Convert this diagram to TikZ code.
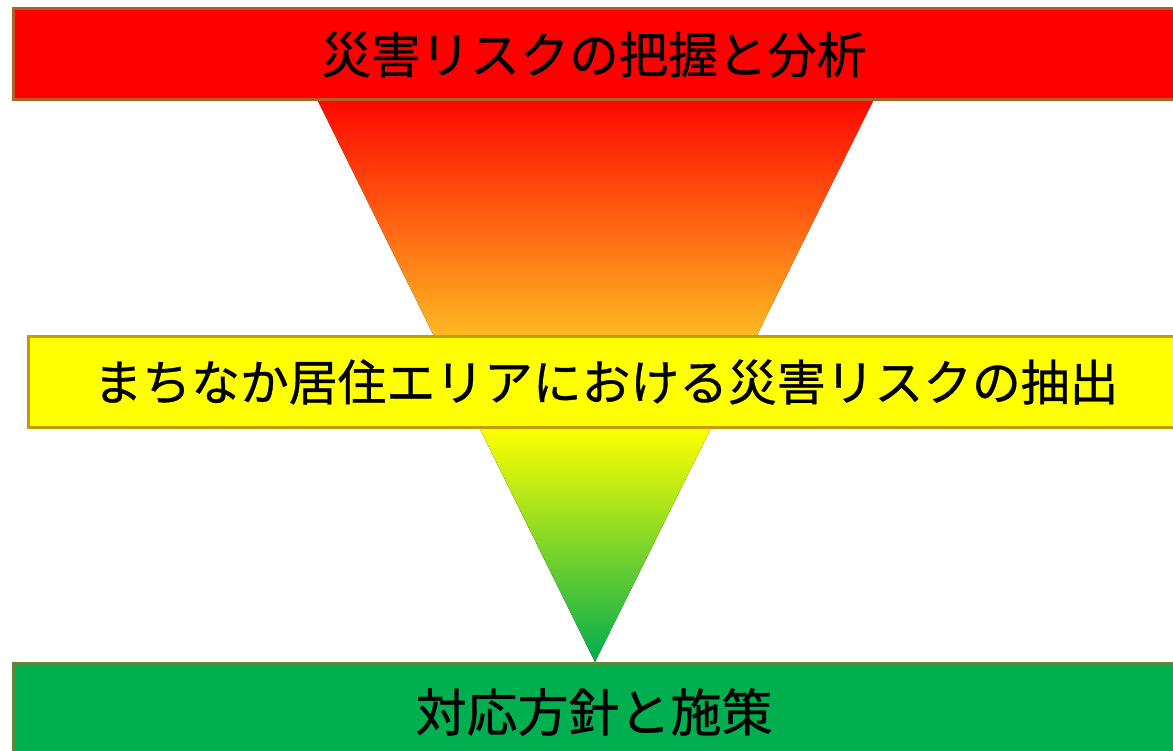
\documentclass[tikz,border=0pt]{standalone}
\usepackage{fontspec}
\setmainfont{Noto Sans CJK JP}[FakeBold=0.7]
\definecolor{barred}{RGB}{255,0,0}
\definecolor{redline}{RGB}{178,96,40}
\definecolor{baryellow}{RGB}{255,255,0}
\definecolor{yellowline}{RGB}{196,156,0}
\definecolor{bargreen}{RGB}{0,176,80}
\definecolor{greenline}{RGB}{96,134,56}
\definecolor{triorange}{RGB}{255,185,35}
\definecolor{trired}{RGB}{255,8,0}
\definecolor{trigreen}{RGB}{0,172,80}
\pgfdeclareverticalshading{funnel}{100bp}{%
  color(0bp)=(trigreen); color(25bp)=(trigreen);
  color(45.8bp)=(baryellow); color(54bp)=(triorange);
  color(75bp)=(trired); color(100bp)=(trired)}
\tikzset{
  bar/.style={draw, line width=3pt, minimum width=1162pt, minimum height=91pt,
    inner sep=0pt, text=black},
}
\begin{document}
\begin{tikzpicture}[x=1pt,y=-1pt]
\useasboundingbox (0,0) rectangle (1173,751);
\clip (0,0) rectangle (1173,751);
\coordinate (tl) at (318,101);
\coordinate (tr) at (873,101);
\coordinate (apex) at (595,662);
\fill[shading=funnel] (tl) -- (tr) -- (apex) -- cycle;
\node[bar, fill=barred, draw=redline] (analysis) at (594,54.5)
  {\fontsize{49.5pt}{56pt}\selectfont 災害リスクの把握と分析};
\node[bar, fill=baryellow, draw=yellowline, minimum width=1156pt] (extract) at (606,382)
  {\fontsize{48.8pt}{56pt}\selectfont まちなか居住エリアにおける災害リスクの抽出};
\node[bar, fill=bargreen, draw=greenline, minimum height=98pt] (measures) at (594,712)
  {\fontsize{51pt}{58pt}\selectfont 対応方針と施策};
\end{tikzpicture}
\end{document}
